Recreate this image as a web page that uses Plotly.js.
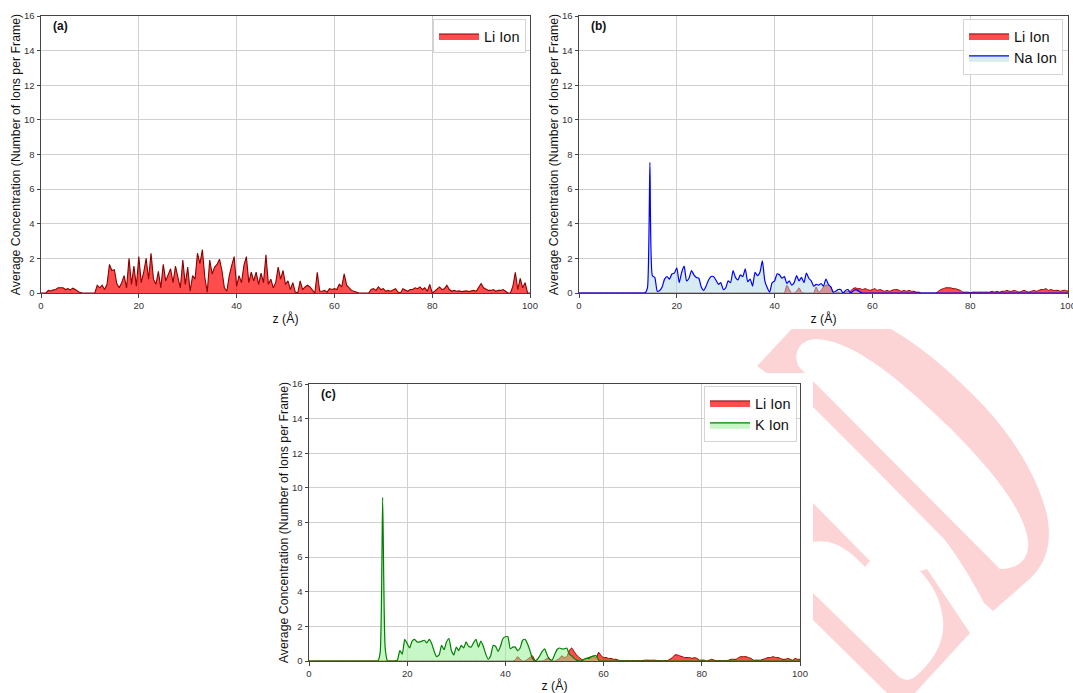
<!DOCTYPE html>
<html><head><meta charset="utf-8">
<script src="https://cdn.plot.ly/plotly-3.0.1.min.js"></script>
<style>html,body{margin:0;padding:0;background:#fff}#chart{width:1073px;height:693px}</style>
</head><body><div id="chart"></div>
<script>
// ---- data ----
const zGrid = [
0,0.5,1,1.5,2,2.5,3,3.5,4,4.5,
5,5.5,6,6.5,7,7.5,8,8.5,9,9.5,
10,10.5,11,11.5,12,12.5,13,13.5,14,14.5,
15,15.5,16,16.5,17,17.5,18,18.5,19,19.5,
20,20.5,21,21.5,22,22.5,23,23.5,24,24.5,
25,25.5,26,26.5,27,27.5,28,28.5,29,29.5,
30,30.5,31,31.5,32,32.5,33,33.5,34,34.5,
35,35.5,36,36.5,37,37.5,38,38.5,39,39.5,
40,40.5,41,41.5,42,42.5,43,43.5,44,44.5,
45,45.5,46,46.5,47,47.5,48,48.5,49,49.5,
50,50.5,51,51.5,52,52.5,53,53.5,54,54.5,
55,55.5,56,56.5,57,57.5,58,58.5,59,59.5,
60,60.5,61,61.5,62,62.5,63,63.5,64,64.5,
65,65.5,66,66.5,67,67.5,68,68.5,69,69.5,
70,70.5,71,71.5,72,72.5,73,73.5,74,74.5,
75,75.5,76,76.5,77,77.5,78,78.5,79,79.5,
80,80.5,81,81.5,82,82.5,83,83.5,84,84.5,
85,85.5,86,86.5,87,87.5,88,88.5,89,89.5,
90,90.5,91,91.5,92,92.5,93,93.5,94,94.5,
95,95.5,96,96.5,97,97.5,98,98.5,99,99.5,
100];

// Panel (a): Li ion
const liA = [
0,0,0,0.15,0.12,0.18,0.2,0.3,0.32,0.3,
0.2,0.25,0.18,0.28,0.2,0.1,0.02,0,0,0,
0,0,0,0.45,0.3,0.45,0.2,0.5,1.65,1.3,
1.35,0.55,0.3,0.6,1.0,0.3,2.0,0.5,1.55,0.4,
2.1,0.6,1.2,2.0,0.8,2.3,0.8,0.5,1.25,0.3,
1.65,0.7,1.1,1.4,0.6,1.55,0.9,0.3,1.9,0.5,
1.5,0.1,1.0,0.8,2.3,1.7,2.5,0.9,0.05,1.9,
1.1,1.5,1.65,1.95,1.3,0.3,0.1,1.0,1.6,2.1,
0.4,1.0,0.6,1.6,2.1,0.6,1.2,0.7,1.2,0.5,
1.15,0.6,2.2,0.5,0.8,0.3,0.6,1.5,0.8,1.3,
0.5,0.7,0.2,0.6,0.05,0,0.7,0.2,0.35,0.45,
0.35,0.2,0,1.2,0.1,0.1,0.15,0.05,0.25,0.2,
0.25,0.2,0.5,0.35,1.1,0.45,0.3,0.15,0.1,0.05,
0,0,0,0,0,0.2,0.25,0.15,0.35,0.2,
0.25,0.1,0.15,0.1,0.2,0.25,0.05,0,0.25,0.15,
0.1,0.2,0.2,0.3,0.25,0.35,0.2,0.3,0.1,0.5,
0,0.1,0.2,0.35,0.2,0.25,0.45,0.2,0.1,0.15,
0.1,0.12,0.08,0.1,0.12,0.08,0.1,0.15,0.1,0.3,
0.55,0.3,0.2,0.15,0.15,0.2,0.1,0.15,0.15,0.2,
0.1,0,0,0.4,1.2,0.2,0.85,0.3,0.6,0,
0];

// Panel (b): Li ion and Na ion
const liB = [
0,0,0,0,0,0,0,0,0,0,
0,0,0,0,0,0,0,0,0,0,
0,0,0,0,0,0,0,0,0,0,
0,0,0,0,0,0,0,0,0,0,
0,0,0,0,0,0,0,0,0,0,
0,0,0,0,0,0,0,0,0,0,
0,0,0,0,0,0,0,0,0,0,
0,0,0,0,0,0,0,0,0,0,
0,0,0,0,0,0.45,0.2,0,0,0.1,
0.3,0.05,0,0,0,0,0,0.35,0.05,0.15,
0.35,0.45,0.45,0.35,0,0,0.05,0,0,0.05,
0.1,0.1,0.25,0.3,0.25,0.25,0.2,0.25,0.2,0.15,
0.2,0.25,0.15,0.2,0.15,0.1,0.15,0.1,0.15,0.2,
0.2,0.15,0.1,0.15,0.1,0.15,0.1,0.1,0.05,0.05,
0,0,0,0,0,0,0,0.1,0.2,0.25,
0.3,0.3,0.3,0.25,0.25,0.2,0.15,0.05,0.05,0.05,
0.02,0.05,0.05,0.05,0.05,0.05,0.05,0.05,0.05,0.1,
0.05,0.1,0.05,0.1,0.1,0.15,0.1,0.1,0.15,0.1,
0.05,0.1,0.15,0.1,0.05,0.1,0.15,0.1,0.15,0.2,
0.2,0.25,0.15,0.2,0.15,0.15,0.15,0.1,0.15,0.15,
0.1];
const naB = [
0,0,0,0,0,0,0,0,0,0,
0,0,0,0,0,0,0,0,0,0,
0,0,0,0,0,0,0,0,0.3,7.55,
1.0,0.9,0.1,0.15,0.35,0.8,0.95,0.8,1.1,1.15,
1.45,0.6,1.2,1.55,0.7,0.85,1.3,1.05,0.9,0.85,
0.35,0.15,0.4,0.75,0.95,0.95,0.75,0.5,0.6,0.2,
0.3,0.7,0.6,1.3,0.9,0.75,1.05,0.95,1.4,0.65,
0.8,0.4,1.2,1.0,1.2,1.85,0.7,0.3,0.05,0.6,
0.7,1.1,1.05,0.85,0.95,0.55,0.7,0.45,0.6,1.0,
0.7,0.9,0.6,1.15,0.85,0.7,0.4,0.5,0.45,0.55,
0.4,0.8,0.5,0.35,0.05,0.1,0.2,0.2,0,0.15,
0.2,0,0.1,0.2,0.15,0.05,0,0,0,0,
0,0,0,0,0,0,0,0,0,0,
0,0,0,0,0,0,0,0,0,0,
0,0,0,0,0,0,0,0,0,0,
0,0,0,0,0,0,0,0,0,0,
0,0,0,0,0,0,0,0,0,0,
0,0,0,0,0,0,0,0,0,0,
0,0,0,0,0,0,0,0,0,0,
0,0,0,0,0,0,0,0,0,0,
0];

// Panel (c): Li ion and K ion
const liC = [
0,0,0,0,0,0,0,0,0,0,
0,0,0,0,0,0,0,0,0,0,
0,0,0,0,0,0,0,0,0,0,
0,0,0,0,0,0,0,0,0,0,
0,0,0,0,0,0,0,0,0,0,
0,0,0,0,0,0,0,0,0,0,
0,0,0,0,0,0,0,0,0,0,
0,0,0,0,0,0,0,0,0,0,
0,0,0,0,0.05,0.25,0.1,0,0,0.1,
0.2,0.3,0.05,0,0,0,0.05,0.15,0.15,0,
0,0.05,0.15,0.3,0.2,0.25,0.6,0.75,0.55,0.35,
0.2,0.1,0.05,0.15,0.2,0.25,0.25,0.2,0.5,0.3,
0.2,0.2,0.15,0.15,0.1,0.1,0.05,0.02,0.02,0.02,
0.02,0.02,0.02,0.02,0.02,0.02,0.03,0.05,0.05,0.04,
0.05,0.04,0.03,0.02,0.02,0.02,0.03,0.1,0.2,0.35,
0.35,0.3,0.25,0.2,0.2,0.2,0.15,0.2,0.15,0.05,
0.05,0.05,0,0.05,0.1,0.05,0.02,0.02,0.02,0.02,
0.02,0.05,0.1,0.1,0.1,0.2,0.25,0.25,0.25,0.2,
0.15,0.05,0.05,0.05,0.05,0.1,0.15,0.2,0.2,0.25,
0.2,0.2,0.15,0.1,0.1,0.15,0.1,0.05,0.15,0.1,
0.1];
const kC = [
0,0,0,0,0,0,0,0,0,0,
0,0,0,0,0,0,0,0,0,0,
0,0,0,0,0,0,0,0,0,0.5,
9.45,0.8,0,0,0,0,0.05,0.6,0.4,1.25,
1.0,0.75,1.15,1.25,1.1,1.1,1.15,1.2,1.05,1.25,
1.0,0.55,0.25,0.35,0.9,0.65,1.1,1.3,0.6,0.35,
0.8,0.6,0.9,0.75,1.1,0.85,0.8,1.05,1.25,0.8,
1.15,0.85,0.4,0.1,0.3,0.9,0.85,0.55,0.85,1.3,
1.4,1.4,0.7,0.8,0.8,0.6,0.75,1.2,1.25,1.0,
0.6,0.15,0,0.1,0.3,0.55,0.7,0.35,0.1,0.05,
0.35,0.65,0.75,0.7,0.7,0.75,0.4,0.3,0.15,0.05,
0,0,0.1,0.15,0.15,0.25,0.3,0.3,0.05,0,
0,0,0,0,0,0,0,0,0,0,
0,0,0,0,0,0,0,0,0,0,
0,0,0,0,0,0,0,0,0,0,
0,0,0,0,0,0,0,0,0,0,
0,0,0,0,0,0,0,0,0,0,
0,0,0,0,0,0,0,0,0,0,
0,0,0,0,0,0,0,0,0,0,
0,0,0,0,0,0,0,0,0,0,
0];

const xTicks = [0,20,40,60,80,100];
const yTicks = [0,2,4,6,8,10,12,14,16];
const panelLabels = ['(a)','(b)','(c)'];
const seriesNames = {li:'Li Ion', na:'Na Ion', k:'K Ion'};
const yTitleText = 'Average Concentration (Number of Ions per Frame)';
const xTitleText = 'z (Å)';

// ---- layout helpers ----
const W = 1073, H = 693;
const FONT = 'Liberation Sans, Arial, Helvetica, sans-serif';
const fx = p => p / W;
const fy = p => 1 - p / H;

function xAxis(l, r, anchor){
  return {domain:[fx(l), fx(r)], anchor:anchor, range:[0,100], tickvals:xTicks,
    showgrid:true, gridcolor:'#d0d0d0', gridwidth:1, zeroline:false,
    showline:true, mirror:true, linecolor:'#444', linewidth:1,
    ticks:'outside', ticklen:3.5, tickwidth:1, tickcolor:'#444',
    ticklabeloverflow:'allow',
    tickfont:{size:9.5, color:'#333', family:FONT},
    title:{text:xTitleText, font:{size:12.3, color:'#111', family:FONT}, standoff:4}};
}
function yAxis(t, b, anchor){
  return {domain:[fy(b), fy(t)], anchor:anchor, range:[0,16], tickvals:yTicks,
    showgrid:true, gridcolor:'#d0d0d0', gridwidth:1, zeroline:false,
    showline:true, mirror:true, linecolor:'#444', linewidth:1,
    ticks:'outside', ticklen:3.5, tickwidth:1, tickcolor:'#444',
    tickfont:{size:9.5, color:'#333', family:FONT},
    title:{text:yTitleText, font:{size:12.3, color:'#111', family:FONT}, standoff:0}};
}

const LI_FILL = 'rgba(255,0,0,0.7)', LI_LINE = '#8b0000';
const NA_FILL = 'rgba(173,216,230,0.5)', NA_LINE = '#0000ff';
const K_FILL = 'rgba(144,238,144,0.5)', K_LINE = '#008000';

function area(y, name, xa, ya, fill, line, legend, shape, lw){
  return {x:zGrid, y:y, name:name, xaxis:xa, yaxis:ya, type:'scatter', mode:'lines',
    fill:'tozeroy', fillcolor:fill, line:{color:line, width:lw, shape:shape, smoothing:0.5},
    legend:legend, hoverinfo:'skip'};
}

const traces = [
  area(liA, seriesNames.li, 'x', 'y', LI_FILL, LI_LINE, 'legend', 'linear', 1.1),
  area(liB, seriesNames.li, 'x2', 'y2', LI_FILL, LI_LINE, 'legend2', 'spline', 1),
  area(naB, seriesNames.na, 'x2', 'y2', NA_FILL, NA_LINE, 'legend2', 'spline', 1.2),
  area(liC, seriesNames.li, 'x3', 'y3', LI_FILL, LI_LINE, 'legend3', 'spline', 1),
  area(kC, seriesNames.k, 'x3', 'y3', K_FILL, K_LINE, 'legend3', 'spline', 1.2)
];

function legendBox(right, top){
  return {x:fx(right), y:fy(top), xanchor:'right', yanchor:'top',
    bgcolor:'rgba(255,255,255,0.85)', bordercolor:'#d5d5d5', borderwidth:1,
    font:{size:14.5, color:'#111', family:FONT}, itemwidth:40, tracegroupgap:2};
}

// watermark (drawn in pixel space of the whole figure)
const wmColor = '#fdd4d6';
const svg = '<svg xmlns="http://www.w3.org/2000/svg" width="1073" height="693" viewBox="0 0 1073 693" preserveAspectRatio="none">' +
 '<path fill="'+wmColor+'" fill-rule="evenodd" d="' +
   'M 757 366 L 800 320 L 872 320 C 905 333 945 365 985 407 C 1015 440 1038 478 1047 515 C 1053 545 1045 567 1025 583 L 993 611 L 984 603 C 975 585 960 560 945 540 L 876 470 L 813 407 Z ' +
   'M 800 368 C 792 358 797 340 815 339 C 850 340 890 370 950 428 C 990 468 1020 505 1027 535 C 1032 555 1022 569 1000 569 Z"/>' +
 '<path fill="'+wmColor+'" d="M 813 503 L 870 561 L 865 567 C 852 553 835 538 813 542 Z"/>' +
 '<path fill="'+wmColor+'" d="M 813 593 L 898 676 C 904 681 910 681 916 676 C 935 660 945 640 943 620 C 941 600 933 585 920 571 L 927 569 L 970 633 L 915 693 L 887 693 L 813 620 Z"/>' +
 '<rect x="0" y="0" width="1073" height="329" fill="#ffffff"/>' +
 '<rect x="0" y="373" width="813" height="320" fill="#ffffff"/>' +
 '</svg>';
const wmSource = 'data:image/svg+xml;charset=utf-8,' + encodeURIComponent(svg);

function label(text, xPix, yPix){
  return {text:'<b>'+text+'</b>', xref:'paper', yref:'paper', x:fx(xPix), y:fy(yPix),
    xanchor:'left', yanchor:'top', showarrow:false, font:{size:12, color:'#111', family:FONT}};
}

const layout = {
  width:W, height:H, margin:{l:0, r:0, t:0, b:0},
  paper_bgcolor:'#ffffff', plot_bgcolor:'#ffffff',
  font:{family:FONT},
  showlegend:true,
  xaxis: xAxis(41, 530, 'y'),   yaxis: yAxis(16, 293, 'x'),
  xaxis2: xAxis(579, 1068, 'y2'), yaxis2: yAxis(16, 293, 'x2'),
  xaxis3: xAxis(309, 800, 'y3'), yaxis3: yAxis(384, 661, 'x3'),
  legend: legendBox(526, 19),
  legend2: legendBox(1063, 19),
  legend3: legendBox(797, 386),
  annotations:[label(panelLabels[0], 51, 17), label(panelLabels[1], 589, 17), label(panelLabels[2], 319, 385)],
  images:[{source:wmSource, xref:'paper', yref:'paper', x:0, y:1, sizex:1, sizey:1,
    xanchor:'left', yanchor:'top', sizing:'stretch', layer:'below'}]
};

Plotly.newPlot('chart', traces, layout, {displayModeBar:false, staticPlot:true});
</script>
</body></html>
